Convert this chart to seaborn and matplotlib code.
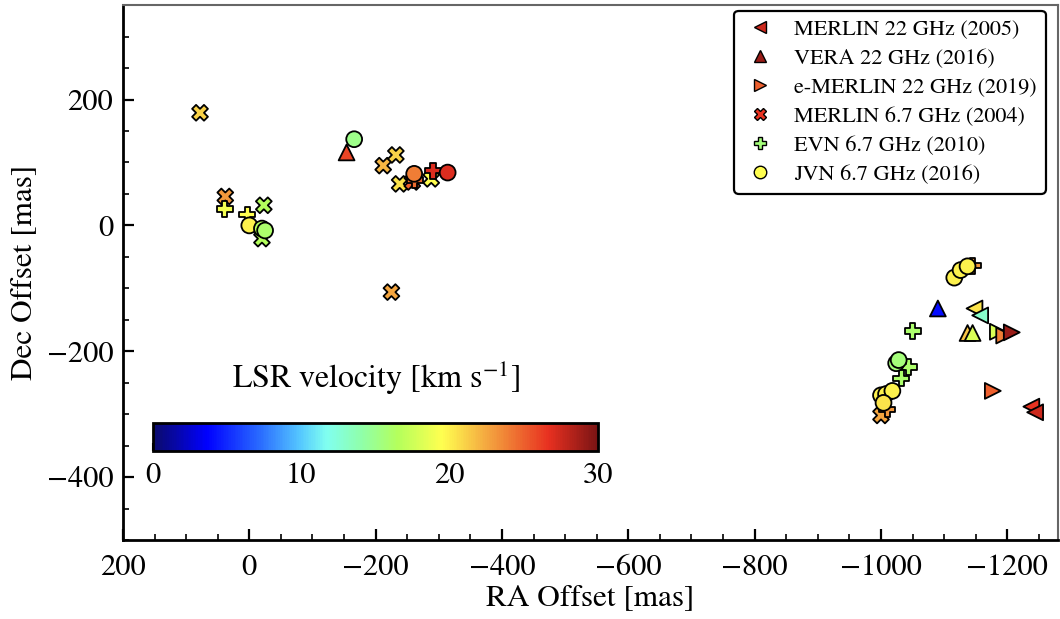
import numpy as np
import pandas as pd
import matplotlib
matplotlib.use("Agg")
import matplotlib.pyplot as plt
from matplotlib.colors import LinearSegmentedColormap, Normalize
from matplotlib.lines import Line2D
import seaborn as sns

# ---------------- data (RA offset, Dec offset [mas], LSR velocity [km/s]) ----------------
merlin22_ra = [-1238, -1244, -1148, -1157]
merlin22_dec = [-288, -297, -132, -143]
merlin22_v = [26.5, 27.5, 20.5, 13.0]

vera22_ra = [-154, -1090, -1137, -1145]
vera22_dec = [116, -132, -171, -171]
vera22_v = [26.0, 4.0, 21.5, 18.0]

emerlin22_ra = [-1185, -1195, -1207, -1177]
emerlin22_dec = [-169, -175, -170, -263]
emerlin22_v = [18.0, 24.0, 29.0, 25.0]

merlin67_ra = [78, 38, -23, -20, -212, -232, -238, -258, -288, -225, -1000]
merlin67_dec = [179, 46, 32, -21, 95, 112, 66, 69, 74, -106, -302]
merlin67_v = [21.0, 23.0, 16.5, 16.5, 22.0, 21.0, 20.5, 25.0, 19.5, 22.5, 22.5]

evn67_ra = [39, 3, -262, -291, -1050, -1044, -1032, -1010, -1145]
evn67_dec = [26, 17, 72, 87, -168, -225, -243, -292, -64]
evn67_v = [19.0, 19.5, 24.5, 27.0, 16.0, 16.0, 16.0, 23.0, 23.0]

jvn67_ra = [0, -20, -25, -166, -261, -314, -1116, -1126, -1137,
            -1024, -1028, -1000, -1008, -1018, -1004]
jvn67_dec = [0, -5, -8, 137, 82, 84, -83, -71, -65,
             -219, -214, -270, -268, -263, -282]
jvn67_v = [20.0, 16.5, 16.0, 15.0, 24.0, 27.0, 20.0, 20.0, 20.0,
           15.5, 15.5, 20.0, 20.0, 20.0, 20.5]

series_labels = ["MERLIN 22 GHz (2005)", "VERA 22 GHz (2016)", "e-MERLIN 22 GHz (2019)",
                 "MERLIN 6.7 GHz (2004)", "EVN 6.7 GHz (2010)", "JVN 6.7 GHz (2016)"]
legend_velocities = [27.5, 29.0, 25.0, 26.5, 15.5, 19.5]

vmin, vmax = 0, 30
x_ticks = [200, 0, -200, -400, -600, -800, -1000, -1200]
y_ticks = [200, 0, -200, -400]
cbar_ticks = [0, 10, 20, 30]

# ---------------- style ----------------
sns.set_theme(style="white")
plt.rcParams["font.family"] = ["STIXGeneral", "DejaVu Serif"]
plt.rcParams["mathtext.fontset"] = "stix"
plt.rcParams["axes.unicode_minus"] = True
for k in ["text.color", "axes.labelcolor", "xtick.color", "ytick.color"]:
    plt.rcParams[k] = "black"

cmap = LinearSegmentedColormap.from_list(
    "lsr",
    [(0.0, "#0b0b6a"), (0.12, "#0000ff"), (0.24, "#2a6cff"), (0.33, "#55c8ff"),
     (0.39, "#80fff0"), (0.47, "#90ffa8"), (0.55, "#b4ff5c"), (0.65, "#ffff50"),
     (0.75, "#f4a840"), (0.89, "#e83020"), (1.0, "#7a1414")])
norm = Normalize(vmin, vmax)

fig = plt.figure(figsize=(10.6, 6.19), dpi=100)
ax = fig.add_axes([0.116, 0.1276, 0.882, 0.864])

datasets = [
    (merlin22_ra, merlin22_dec, merlin22_v, "<"),
    (vera22_ra, vera22_dec, vera22_v, "^"),
    (emerlin22_ra, emerlin22_dec, emerlin22_v, ">"),
    (merlin67_ra, merlin67_dec, merlin67_v, "X"),
    (evn67_ra, evn67_dec, evn67_v, "P"),
    (jvn67_ra, jvn67_dec, jvn67_v, "o"),
]
for ra, dec, v, mk in datasets:
    df = pd.DataFrame({"ra": ra, "dec": dec, "v": v})
    sns.scatterplot(data=df, x="ra", y="dec", hue="v", palette=cmap, hue_norm=norm,
                    marker=mk, s=130, edgecolor="black", linewidth=1.3,
                    legend=False, ax=ax, zorder=3)

ax.set_xlim(200, -1280)
ax.set_ylim(-500, 350)
ax.set_xticks(x_ticks)
ax.set_yticks(y_ticks)
ax.xaxis.set_minor_locator(matplotlib.ticker.MultipleLocator(50))
ax.yaxis.set_minor_locator(matplotlib.ticker.MultipleLocator(50))
ax.tick_params(which="both", direction="in", top=False, right=False,
               bottom=True, left=True, colors="black", labelsize=22)
ax.tick_params(which="major", length=8, width=1.6)
ax.tick_params(which="minor", length=4, width=1.2)
ax.tick_params(axis="x", which="major", pad=10)
ax.tick_params(axis="y", which="major", pad=7)
ax.set_xlabel("RA Offset [mas]", fontsize=22.5, labelpad=2)
ax.set_ylabel("Dec Offset [mas]", fontsize=22.5, labelpad=6)
for s in ["left", "bottom"]:
    ax.spines[s].set_color("black")
    ax.spines[s].set_linewidth(2.0)
for s in ["top", "right"]:
    ax.spines[s].set_color("#666666")
    ax.spines[s].set_linewidth(1.5)

# legend
markers = ["<", "^", ">", "X", "P", "o"]
handles = [Line2D([0], [0], marker=m, linestyle="none", markersize=9,
                  markerfacecolor=cmap(norm(v)), markeredgecolor="black",
                  markeredgewidth=1.0, label=lab)
           for m, v, lab in zip(markers, legend_velocities, series_labels)]
leg = ax.legend(handles=handles, loc="upper right", fontsize=16, frameon=True,
                fancybox=True, framealpha=1, edgecolor="black",
                borderpad=0.4, labelspacing=0.38, handlelength=1.5,
                handletextpad=0.8, borderaxespad=0.0,
                bbox_to_anchor=(0.987, 0.99))
leg.get_frame().set_linewidth(1.6)

# colorbar
cax = fig.add_axes([0.1443, 0.2714, 0.42, 0.0452])
sm = matplotlib.cm.ScalarMappable(norm=norm, cmap=cmap)
cb = fig.colorbar(sm, cax=cax, orientation="horizontal", ticks=cbar_ticks)
cb.outline.set_linewidth(2.0)
cb.outline.set_edgecolor("black")
cax.tick_params(direction="in", length=6, width=1.5, labelsize=22, colors="black", pad=8)
cax.xaxis.set_label_position("top")
cb.set_label(r"LSR velocity [km s$^{-1}$]", fontsize=23, labelpad=25, color="black")

fig.savefig("out.png", dpi=100)
